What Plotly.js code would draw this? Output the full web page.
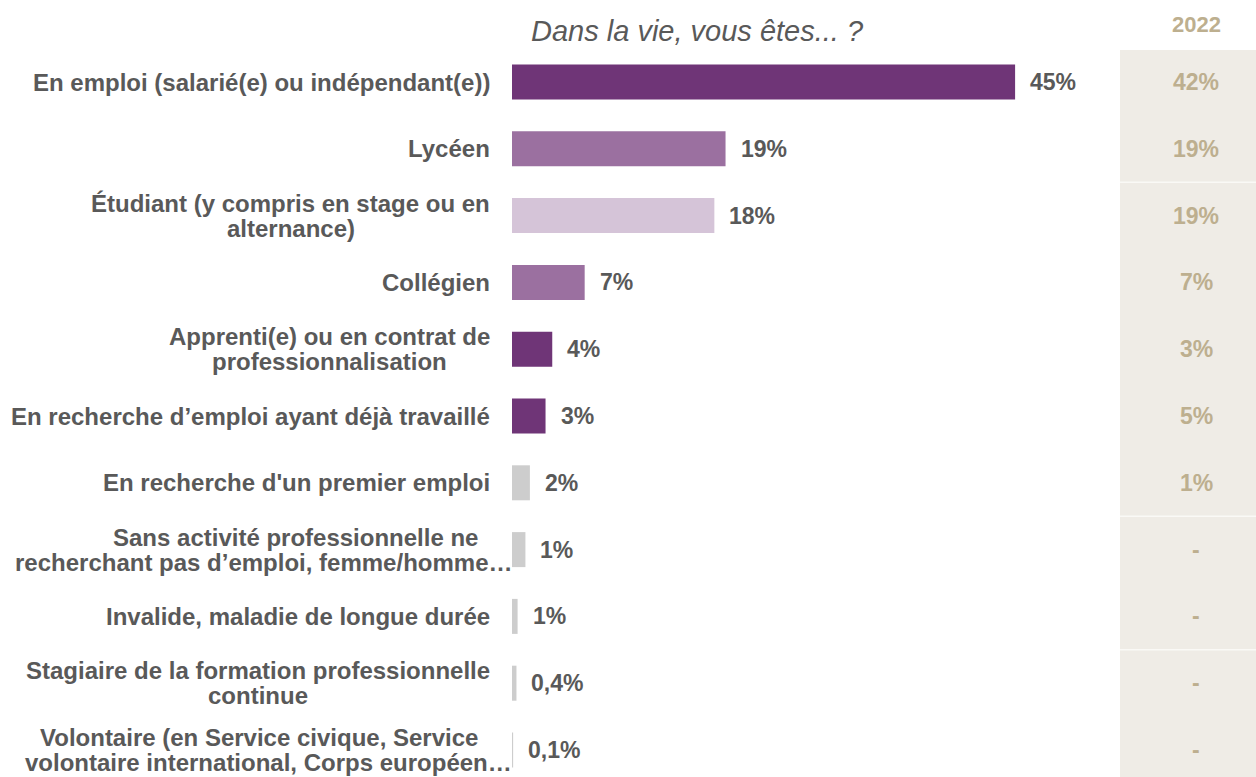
<!DOCTYPE html>
<html><head><meta charset="utf-8">
<script src="https://cdn.plot.ly/plotly-3.0.1.min.js"></script>
<style>html,body{margin:0;padding:0;background:#fff;overflow:hidden}#chart{width:1256px;height:777px}</style>
</head><body><div id="chart"></div>
<script>
// ---- data ----
const categories = [
  "En emploi (salarié(e) ou indépendant(e))",
  "Lycéen",
  "Étudiant (y compris en stage ou en\nalternance)",
  "Collégien",
  "Apprenti(e) ou en contrat de\nprofessionnalisation",
  "En recherche d’emploi ayant déjà travaillé",
  "En recherche d'un premier emploi",
  "Sans activité professionnelle ne\nrecherchant pas d’emploi, femme/homme…",
  "Invalide, maladie de longue durée",
  "Stagiaire de la formation professionnelle\ncontinue",
  "Volontaire (en Service civique, Service\nvolontaire international, Corps européen…"
];
const values = [45, 19.1, 18.1, 6.5, 3.6, 3.0, 1.6, 1.2, 0.5, 0.4, 0.1];
const valueLabels = ["45%", "19%", "18%", "7%", "4%", "3%", "2%", "1%", "1%", "0,4%", "0,1%"];
const colorGroups = ["dark", "medium", "light", "medium", "dark", "dark", "gray", "gray", "gray", "gray", "gray"];
const values2022 = ["42%", "19%", "19%", "7%", "3%", "5%", "1%", "-", "-", "-", "-"];
const chartTitle = "Dans la vie, vous êtes... ?";
const compareHeader = "2022";
const separatorsAfter = [1, 6, 8];

// ---- styles ----
const W = 1256, H = 777;
const palette = { dark: "#6F3577", medium: "#9B70A0", light: "#D5C4D8", gray: "#CDCDCD" };
const textGray = "#595959", tan = "#BDAF8F", colBg = "#EFECE6";
const FONT = '"Liberation Sans", Arial, sans-serif';
const labelSize = 24, valueSize = 23;
const barLeftPx = 512, pxPerPct = 11.18;
const rowTopPx = 82, rowStep = 66.8;
const yTop = -rowTopPx / rowStep, yBottom = (H - rowTopPx) / rowStep;
const xMax = (W - barLeftPx) / pxPerPct;

const ids = categories.map((c, i) => "c" + i);

const canvas = document.createElement("canvas");
const ctx = canvas.getContext("2d");
ctx.font = "bold " + labelSize + "px " + FONT;
const measure = t => ctx.measureText(t).width;

const annotations = [];
const labelRight = -20, lineGap = 25, truncatedBoxShift = -12;
categories.forEach((lab, i) => {
  const lines = lab.split("\n");
  const normal = lines.filter(l => !l.endsWith("…"));
  const hasTrunc = normal.length < lines.length;
  const blockW = Math.max(...normal.map(measure));
  lines.forEach((ln, k) => {
    const yshift = lines.length === 1 ? 0 : ((lines.length - 1) / 2 - k) * lineGap;
    let a = { xref: "x", yref: "y", x: 0, y: ids[i], text: ln, showarrow: false,
      font: { family: FONT, size: labelSize, color: textGray, weight: "bold" }, yshift: yshift, yanchor: "middle" };
    if (ln.endsWith("…")) { a.xanchor = "right"; a.xshift = 2; }
    else if (lines.length === 1) { a.xanchor = "right"; a.xshift = labelRight; }
    else { a.xanchor = "center"; a.xshift = labelRight - 2 - blockW / 2 + (hasTrunc ? truncatedBoxShift : 0); }
    annotations.push(a);
  });
  annotations.push({ xref: "x", yref: "y", x: values[i], y: ids[i], text: valueLabels[i], showarrow: false,
    xanchor: "left", xshift: 13, yanchor: "middle",
    font: { family: FONT, size: valueSize, color: textGray, weight: "bold" } });
  annotations.push({ xref: "paper", yref: "y", x: 1196 / W, y: ids[i], text: values2022[i], showarrow: false,
    xanchor: "center", yanchor: "middle",
    font: { family: FONT, size: valueSize, color: tan, weight: "bold" } });
});
annotations.push({ xref: "paper", yref: "paper", x: 697 / W, y: 1 - 31 / H, text: chartTitle, showarrow: false,
  xanchor: "center", yanchor: "middle", font: { family: FONT, size: 29, color: textGray, style: "italic" } });
annotations.push({ xref: "paper", yref: "paper", x: 1196 / W, y: 1 - 25 / H, text: compareHeader, showarrow: false,
  xanchor: "center", yanchor: "middle", font: { family: FONT, size: 22, color: tan, weight: "bold" } });

const shapes = [{ type: "rect", xref: "paper", yref: "paper", x0: 1120 / W, x1: 1, y0: 0, y1: 1 - 50 / H,
  fillcolor: colBg, line: { width: 0 }, layer: "below" }];
separatorsAfter.forEach(s => shapes.push({ type: "line", xref: "paper", yref: "y", x0: 1120 / W, x1: 1,
  y0: s + 0.5, y1: s + 0.5, line: { color: "#FAF9F6", width: 1.5 }, layer: "below" }));

const trace = {
  type: "bar", orientation: "h", x: values, y: ids,
  marker: { color: colorGroups.map(g => palette[g]), line: { width: 0 } },
  width: 35 / rowStep, hoverinfo: "skip", textposition: "none"
};

const layout = {
  width: W, height: H, margin: { l: 0, r: 0, t: 0, b: 0 },
  paper_bgcolor: "#fff", plot_bgcolor: "rgba(0,0,0,0)", showlegend: false,
  xaxis: { domain: [barLeftPx / W, 1], range: [0, xMax], visible: false, fixedrange: true },
  yaxis: { type: "category", range: [yBottom, yTop], visible: false, fixedrange: true, categoryarray: ids, categoryorder: "array" },
  annotations: annotations, shapes: shapes
};
Plotly.newPlot("chart", [trace], layout, { staticPlot: true, displayModeBar: false });
</script></body></html>
